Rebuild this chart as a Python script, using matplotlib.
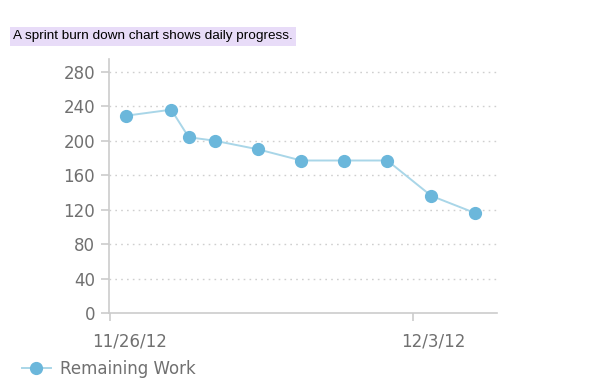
import datetime as dt
import matplotlib
matplotlib.use("Agg")
import matplotlib.pyplot as plt
from matplotlib.transforms import ScaledTranslation

# data
times = ["2012-11-26 09:00", "2012-11-27 10:00", "2012-11-27 19:40", "2012-11-28 10:00",
         "2012-11-29 10:00", "2012-11-30 10:00", "2012-12-01 09:40", "2012-12-02 09:40",
         "2012-12-03 10:00", "2012-12-04 10:20"]
remaining = [229, 236, 204, 200, 190, 177, 177, 177, 136, 116]
yticks = [0, 40, 80, 120, 160, 200, 240, 280]
xtick_dates = ["2012-11-26", "2012-12-03"]
title = "A sprint burn down chart shows daily progress."
series_name = "Remaining Work"

x = [dt.datetime.strptime(t, "%Y-%m-%d %H:%M") for t in times]
xt = [dt.datetime.strptime(d, "%Y-%m-%d") for d in xtick_dates]

fig = plt.figure(figsize=(6.02, 3.91), dpi=100)
ax = fig.add_axes([0.181, 0.1995, 0.645, 0.65])

line_c = "#a9d6e8"
mark_c = "#6bb7db"
grey = "#707070"

ax.plot(x, remaining, color=line_c, lw=1.4, marker="o", ms=8.5,
        mfc=mark_c, mec=mark_c, label=series_name, zorder=3)

ax.set_ylim(0, 295)
ax.set_xlim(xt[0] - dt.timedelta(hours=0.5), xt[0] + dt.timedelta(days=8.94))
ax.set_yticks(yticks)
ax.set_xticks(xt)
ax.set_xticklabels([d.strftime("%-m/%-d/%y") for d in xt])

for s in ["top", "right"]:
    ax.spines[s].set_visible(False)
for s in ["left", "bottom"]:
    ax.spines[s].set_color("#cccccc")
    ax.spines[s].set_linewidth(1.2)

ax.tick_params(axis="y", colors="#cccccc", labelcolor=grey, labelsize=12,
               length=6, width=1.2, pad=4)
ax.tick_params(axis="x", colors="#cccccc", labelcolor=grey, labelsize=12,
               length=6, width=1.2, pad=8)
off = ScaledTranslation(20 / 100, 0, fig.dpi_scale_trans)
for lab in ax.get_xticklabels():
    lab.set_transform(lab.get_transform() + off)

for v in yticks[1:]:
    ax.axhline(v, color="#cfcfcf", lw=1, ls=(0, (1.2, 3)), zorder=1)

fig.text(0.022, 0.9, title, fontsize=9.7, family="Liberation Sans", color="black",
         bbox=dict(facecolor="#e8dcf8", edgecolor="none", pad=2.5))

fig.legend(loc="lower left", bbox_to_anchor=(0.012, -0.005), frameon=False,
           fontsize=12, labelcolor=grey, handlelength=1.7, handletextpad=0.55)

fig.savefig("out.png", dpi=100)
